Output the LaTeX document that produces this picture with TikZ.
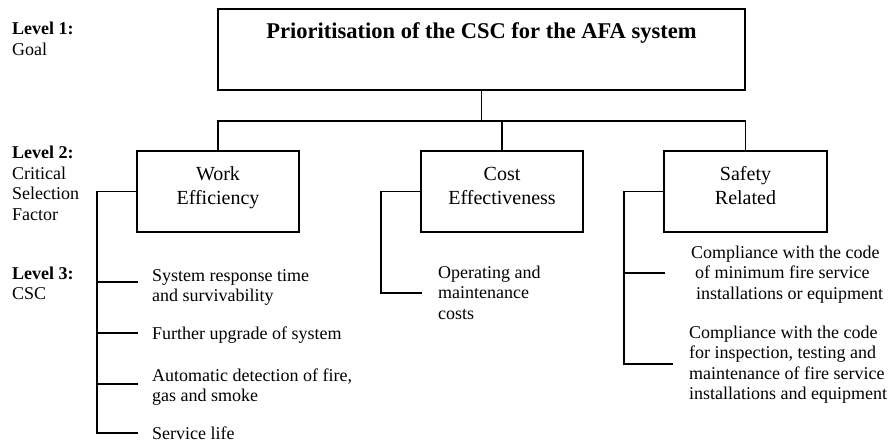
\documentclass[tikz,border=0pt]{standalone}
\usepackage{fontspec}
\setmainfont{Liberation Serif}
\begin{document}
\begin{tikzpicture}[x=1pt,y=-1pt,
  box/.style={draw, line width=1.9pt, inner sep=0pt},
  link/.style={line width=1.9pt},
  boxtext/.style={anchor=base, align=center, inner sep=0pt, font=\fontsize{20}{24}\selectfont},
  csc/.style={anchor=base west, align=left, inner sep=0pt, font=\fontsize{18}{20.5}\selectfont},
  lvl/.style={anchor=base west, align=left, inner sep=0pt, font=\fontsize{18}{20.5}\selectfont}]
\useasboundingbox (0,0) rectangle (891,444);

% level labels (positioned by the baseline of their last line)
\node[lvl] (lv1) at (12,55.5) {\textbf{Level 1:}\\Goal};
\node[lvl] (lv2) at (12,220) {\textbf{Level 2:}\\Critical\\Selection\\Factor};
\node[lvl] (lv3) at (12,299.5) {\textbf{Level 3:}\\CSC};

% goal
\node[box, minimum width=527pt, minimum height=81pt] (goal) at (481.5,49.5) {};
\node[anchor=base, inner sep=0pt, font=\fontsize{22.5}{27}\selectfont\bfseries] (title) at (481.5,39)
  {Prioritisation of the CSC for the AFA system};

% critical selection factors
\node[box, minimum width=162pt, minimum height=81pt] (work) at (218,191.5) {};
\node[box, minimum width=162pt, minimum height=81pt] (cost) at (502,191.5) {};
\node[box, minimum width=163pt, minimum height=81pt] (safety) at (745.5,191.5) {};
\node[boxtext] (worktext) at (218,204) {Work\\Efficiency};
\node[boxtext] (costtext) at (502,204) {Cost\\Effectiveness};
\node[boxtext] (safetytext) at (745.5,204) {Safety\\Related};

% goal to factors
\coordinate (hub) at (481.5,121);
\draw[link] (goal.south) -- (hub);
\draw[link] (work.north) |- (hub) -| (safety.north);
\draw[link] (cost.north) -- (cost.north |- hub);

% work efficiency criteria
\coordinate (w1) at (138,282);
\coordinate (w2) at (138,333);
\coordinate (w3) at (138,384);
\coordinate (w4) at (138,433);
\coordinate (wspine) at (97,433);
\draw[link] (work.west) -| (wspine) -- (w4);
\foreach \c in {w1,w2,w3} \draw[link] (wspine |- \c) -- (\c);
\node[csc] (t1) at (152,301.5) {System response time\\and survivability};
\node[csc] (t2) at (152,339) {Further upgrade of system};
\node[csc] (t3) at (152,401.5) {Automatic detection of fire,\\gas and smoke};
\node[csc] (t4) at (152,439) {Service life};

% cost effectiveness criteria
\coordinate (c1) at (422,293);
\coordinate (cspine) at (381,293);
\draw[link] (cost.west) -| (cspine) -- (c1);
\node[csc] (t5) at (438,319) {Operating and\\maintenance\\costs};

% safety related criteria
\coordinate (s1) at (665,273);
\coordinate (s2) at (673,364);
\coordinate (sspine) at (624,364);
\draw[link] (safety.west) -| (sspine) -- (s2);
\draw[link] (sspine |- s1) -- (s1);
\node[csc] (t6) at (691,299) {Compliance with the code\\\hspace*{4pt}of minimum fire service\\\hspace*{5pt}installations or equipment};
\node[csc] (t7) at (689,399.5) {Compliance with the code\\for inspection, testing and\\maintenance of fire service\\installations and equipment};
\end{tikzpicture}
\end{document}
